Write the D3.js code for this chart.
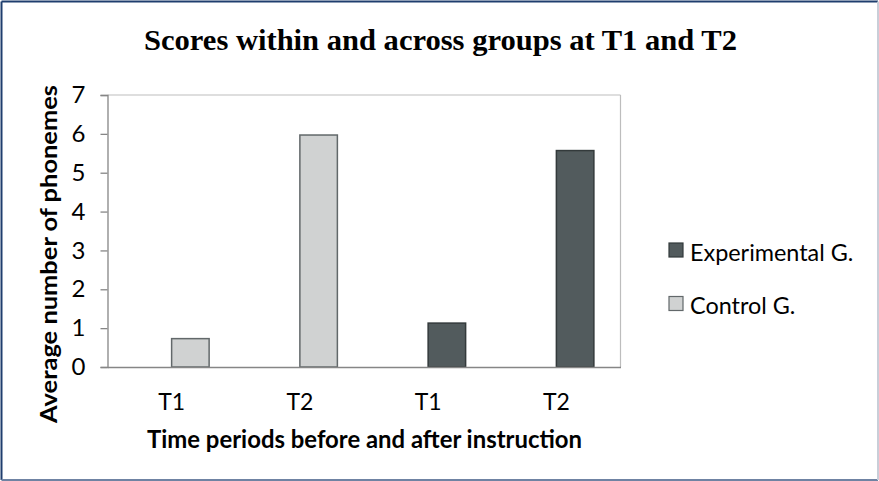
<!DOCTYPE html>
<html>
<head>
<meta charset="utf-8">
<script src="https://cdn.jsdelivr.net/npm/d3@7/dist/d3.min.js"></script>
<style>
  body { margin: 0; background: #fff; }
  svg { display: block; }
</style>
</head>
<body>
<div id="chart"></div>
<script>
/* data */
var categories = ["c-T1", "c-T2", "e-T1", "e-T2"];
var tickLabels = ["T1", "T2", "T1", "T2"];
var groups = ["Control G.", "Control G.", "Experimental G.", "Experimental G."];
var values = [0.73, 5.97, 1.13, 5.57];
var yTicks = [0, 1, 2, 3, 4, 5, 6, 7];
var legendNames = ["Experimental G.", "Control G."];

var W = 879, H = 481;
var plot = { left: 107.5, right: 620.5, top: 95, bottom: 367 };

var fills = { "Experimental G.": "#525b5d", "Control G.": "#d0d2d2" };
var strokes = { "Experimental G.": "#333a3b", "Control G.": "#62686a" };
var sans = "Lato, 'Open Sans', sans-serif";

var svg = d3.select("#chart").append("svg")
    .attr("width", W)
    .attr("height", H);

svg.append("rect")
    .attr("width", W).attr("height", H)
    .attr("fill", "#fff");

// outer frame
svg.append("line").attr("x1", 1.5).attr("y1", 1.5).attr("x2", W - 1).attr("y2", 1.5)
    .attr("stroke", "#1f3e6e").attr("stroke-width", 2);
svg.append("line").attr("x1", 1.5).attr("y1", 1.5).attr("x2", 1.5).attr("y2", H - 1)
    .attr("stroke", "#1f3e6e").attr("stroke-width", 2);
svg.append("line").attr("x1", 1.5).attr("y1", H - 1).attr("x2", W - 1).attr("y2", H - 1)
    .attr("stroke", "#6f83a3").attr("stroke-width", 2);
svg.append("line").attr("x1", W - 1).attr("y1", 1.5).attr("x2", W - 1).attr("y2", H - 1)
    .attr("stroke", "#c9ced8").attr("stroke-width", 2);

// title
svg.append("text")
    .attr("x", 144).attr("y", 50)
    .attr("textLength", 593)
    .attr("lengthAdjust", "spacingAndGlyphs")
    .style("font-family", "'Liberation Serif', 'Times New Roman', serif")
    .style("font-weight", "bold")
    .style("font-size", "30px")
    .attr("fill", "#000")
    .text("Scores within and across groups at T1 and T2");

// scales
var x = d3.scaleBand()
    .domain(categories)
    .range([plot.left, plot.right]);

var y = d3.scaleLinear()
    .domain([0, 7])
    .range([plot.bottom, plot.top]);

var barW = 37.5;

// plot frame (top & right)
svg.append("line")
    .attr("x1", plot.left).attr("x2", plot.right)
    .attr("y1", y(7)).attr("y2", y(7))
    .attr("stroke", "#bdbdbd").attr("stroke-width", 1.2);
svg.append("line")
    .attr("x1", plot.right).attr("x2", plot.right)
    .attr("y1", y(7)).attr("y2", y(0))
    .attr("stroke", "#bdbdbd").attr("stroke-width", 1.2);

// bars
svg.selectAll("rect.bar")
    .data(values)
    .enter().append("rect")
    .attr("class", "bar")
    .attr("x", function (d, i) { return x(categories[i]) + x.bandwidth() / 2; })
    .attr("y", function (d) { return y(d); })
    .attr("width", barW)
    .attr("height", function (d) { return y(0) - y(d); })
    .attr("fill", function (d, i) { return fills[groups[i]]; })
    .attr("stroke", function (d, i) { return strokes[groups[i]]; })
    .attr("stroke-width", 1.5);

// y axis
var yAxis = svg.append("g")
    .attr("transform", "translate(" + plot.left + ",0)")
    .call(d3.axisLeft(y).tickValues(yTicks).tickSize(7).tickPadding(15).tickFormat(d3.format("d")));
yAxis.select(".domain").attr("stroke", "#868686").attr("stroke-width", 1.3);
yAxis.selectAll(".tick line").attr("stroke", "#868686").attr("stroke-width", 1.3);
yAxis.selectAll(".tick text")
    .style("font-family", sans)
    .style("font-size", "24px")
    .attr("fill", "#000");

// x axis
var xAxis = svg.append("g")
    .attr("transform", "translate(0," + plot.bottom + ")")
    .call(d3.axisBottom(x).tickSize(0).tickPadding(27).tickFormat(function (d, i) { return tickLabels[i]; }));
xAxis.select(".domain").attr("stroke", "#868686").attr("stroke-width", 1.3);
xAxis.selectAll(".tick text")
    .style("font-family", sans)
    .style("font-size", "23px")
    .attr("fill", "#000");

// axis titles
svg.append("text")
    .attr("transform", "translate(57,254) rotate(-90)")
    .attr("text-anchor", "middle")
    .attr("textLength", 338)
    .attr("lengthAdjust", "spacingAndGlyphs")
    .style("font-family", sans)
    .style("font-weight", "bold")
    .style("font-size", "23px")
    .attr("fill", "#000")
    .text("Average number of phonemes");

svg.append("text")
    .attr("x", 147).attr("y", 448)
    .attr("textLength", 435)
    .attr("lengthAdjust", "spacingAndGlyphs")
    .style("font-family", sans)
    .style("font-weight", "bold")
    .style("font-size", "24px")
    .attr("fill", "#000")
    .text("Time periods before and after instruction");

// legend
var legend = svg.selectAll("g.legend")
    .data(legendNames)
    .enter().append("g")
    .attr("class", "legend")
    .attr("transform", function (d, i) { return "translate(669," + (243 + i * 53.5) + ")"; });

legend.append("rect")
    .attr("width", 14).attr("height", 14)
    .attr("fill", function (d) { return fills[d]; })
    .attr("stroke", function (d) { return strokes[d]; })
    .attr("stroke-width", 1.2);

legend.append("text")
    .attr("x", 21).attr("y", 17.5)
    .style("font-family", sans)
    .style("font-size", "23.4px")
    .attr("fill", "#000")
    .text(function (d) { return d; });
</script>
</body>
</html>
